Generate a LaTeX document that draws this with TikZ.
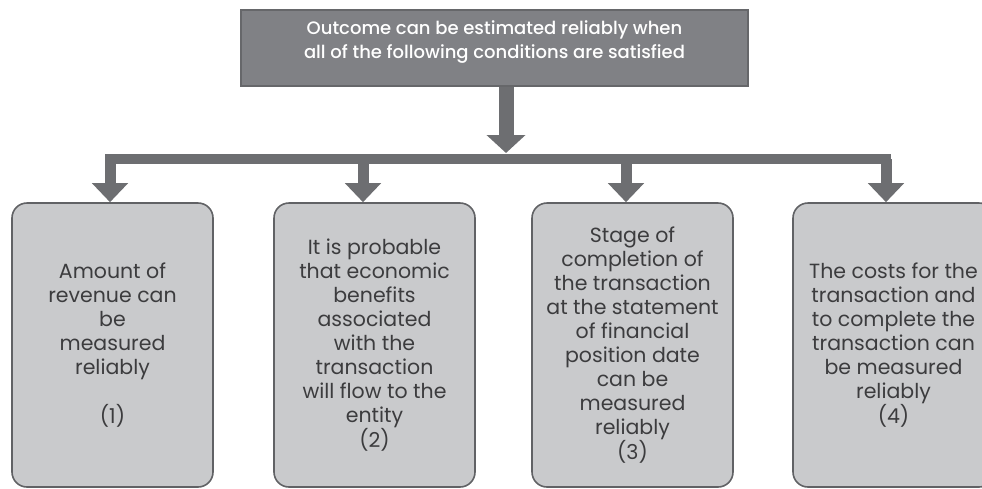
\documentclass[tikz,border=0pt]{standalone}
\usepackage{fontspec}
\setmainfont{Poppins}
\newfontfamily\headfont{Poppins}[UprightFont=*-Medium]
\usetikzlibrary{arrows.meta}
\definecolor{headfill}{HTML}{808185}
\definecolor{headline}{HTML}{66676A}
\definecolor{arrowgray}{HTML}{6D6E71}
\definecolor{boxfill}{HTML}{C9CACC}
\definecolor{boxline}{HTML}{616265}
\definecolor{boxtext}{HTML}{3C3C3E}
\tikzset{
  headbox/.style={draw=headline, line width=1.5pt, fill=headfill,
    minimum width=507pt, minimum height=76pt, inner sep=0pt},
  headtext/.style={text=white, align=center,
    font=\headfont\fontsize{18}{23.5}\selectfont},
  condbox/.style={draw=boxline, line width=1.6pt, fill=boxfill,
    rounded corners=15pt, minimum width=201pt, minimum height=284pt,
    inner sep=0pt, text=boxtext, align=center,
    font=\fontsize{20.5}{24}\selectfont},
  mainarrow/.style={draw=arrowgray, line width=15pt,
    -{Triangle[width=38pt,length=18pt]}},
  droparrow/.style={draw=arrowgray, line width=11pt, line join=miter,
    -{Triangle[width=35pt,length=19pt]}},
}
\begin{document}
\begin{tikzpicture}[x=1pt,y=-1pt]
  \useasboundingbox (0,0) rectangle (982,488);
  \clip (0,0) rectangle (982,488);

  % heading
  \node[headbox] (top) at (494.5,48) {};
  \node[headtext] (toptext) at (494.5,42)
    {Outcome can be estimated reliably when\\
     all of the following conditions are satisfied};

  % the four conditions
  \node[condbox] (b1) at (112.5,345)
    {Amount of\\revenue can\\be\\measured\\reliably\\[24pt](1)};
  \node[condbox] (b2) at (374.5,345)
    {It is probable\\that economic\\benefits\\associated\\with the\\transaction\\will flow to the\\entity\\(2)};
  \node[condbox] (b3) at (632.5,345)
    {Stage of\\completion of\\the transaction\\at the statement\\of financial\\position date\\can be\\measured\\reliably\\(3)};
  \node[condbox] (b4) at (893.5,345)
    {The costs for the\\transaction and\\to complete the\\transaction can\\be measured\\reliably\\(4)};

  % branch points on the distribution bar
  \coordinate (bar) at (506,159);
  \coordinate (e1) at ([xshift=-2.5pt]b1.north);
  \coordinate (e2) at ([xshift=-11.5pt]b2.north);
  \coordinate (e3) at ([xshift=-6.5pt]b3.north);
  \coordinate (e4) at ([xshift=-7.5pt]b4.north);

  % connectors
  \draw[droparrow] (e1 |- bar) -- (e1);
  \draw[droparrow] (e4 |- bar) -- (e4);
  \draw[draw=arrowgray, line width=10pt, line cap=rect] (e1 |- bar) -- (e4 |- bar);
  \draw[droparrow] (e2 |- bar) -- (e2);
  \draw[droparrow] (e3 |- bar) -- (e3);
  \draw[mainarrow] (bar |- top.south) -- ([yshift=6pt]bar);
\end{tikzpicture}
\end{document}
